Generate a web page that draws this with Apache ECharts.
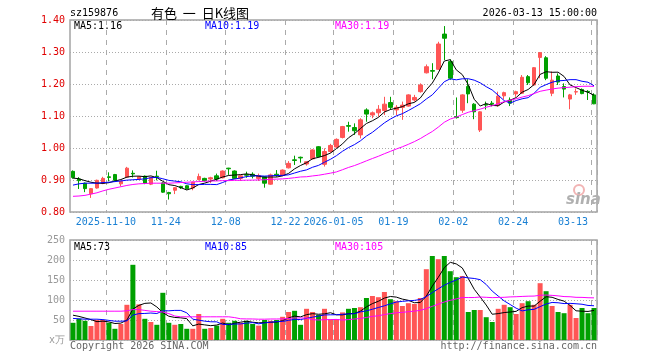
<!DOCTYPE html>
<html><head><meta charset="utf-8">
<script src="https://cdn.jsdelivr.net/npm/echarts@6.0.0/dist/echarts.min.js"></script>
<style>html,body{margin:0;padding:0;background:#fff}#c{width:660px;height:360px}</style>
</head><body><div id="c"></div>
<script>
// trading days shown on the category axis
const tradingDays = {
  '2025-10': [31],
  '2025-11': [3,4,5,6,7,10,11,12,13,14,17,18,19,20,21,24,25,26,27,28],
  '2025-12': [1,2,3,4,5,8,9,10,11,12,15,16,17,18,19,22,23,24,25,26,29,30,31],
  '2026-01': [5,6,7,8,9,12,13,14,15,16,19,20,21,22,23,26,27,28,29,30],
  '2026-02': [2,3,4,5,6,9,10,11,12,13,24,25,26,27],
  '2026-03': [2,3,4,5,6,9,10,11,12,13]
};
const tickLabels = {
  '2025-11-10': '2025-11-10', '2025-11-24': '11-24', '2025-12-08': '12-08',
  '2025-12-22': '12-22', '2026-01-05': '2026-01-05', '2026-01-19': '01-19',
  '2026-02-02': '02-02', '2026-02-24': '02-24', '2026-03-13': '03-13'
};
const open = [0.927,0.903,0.890,0.857,0.875,0.889,0.910,0.917,0.888,0.909,
0.921,0.903,0.912,0.887,0.912,0.891,0.861,0.868,0.880,0.882,
0.875,0.901,0.905,0.903,0.913,0.907,0.937,0.928,0.905,0.917,
0.918,0.905,0.910,0.887,0.918,0.914,0.938,0.963,0.971,0.950,
0.966,1.004,0.949,0.989,1.003,1.033,1.070,1.064,1.041,1.119,
1.103,1.110,1.117,1.142,1.119,1.127,1.131,1.150,1.176,1.235,
1.242,1.246,1.356,1.270,1.098,1.118,1.192,1.137,1.056,1.136,
1.140,1.134,1.163,1.150,1.169,1.171,1.223,1.197,1.283,1.282,
1.171,1.225,1.192,1.153,1.175,1.183,1.177,1.166];
const close = [0.908,0.898,0.873,0.873,0.899,0.905,0.908,0.899,0.896,0.937,
0.919,0.910,0.890,0.908,0.910,0.862,0.857,0.876,0.876,0.873,
0.893,0.911,0.898,0.907,0.903,0.928,0.935,0.905,0.913,0.915,
0.912,0.914,0.890,0.916,0.914,0.931,0.952,0.961,0.969,0.957,
0.994,0.973,0.989,1.008,1.027,1.067,1.068,1.054,1.088,1.106,
1.110,1.121,1.137,1.127,1.127,1.134,1.166,1.158,1.197,1.254,
1.240,1.325,1.343,1.218,1.095,1.166,1.169,1.113,1.113,1.134,
1.137,1.162,1.173,1.140,1.176,1.221,1.204,1.251,1.298,1.218,
1.212,1.206,1.184,1.166,1.176,1.170,1.175,1.138];
const low = [0.904,0.872,0.862,0.844,0.873,0.887,0.896,0.897,0.880,0.907,
0.908,0.900,0.887,0.884,0.899,0.860,0.839,0.856,0.872,0.870,
0.868,0.899,0.895,0.891,0.897,0.905,0.916,0.903,0.897,0.907,
0.905,0.897,0.876,0.885,0.910,0.912,0.936,0.947,0.954,0.945,
0.964,0.970,0.942,0.985,1.000,1.030,1.051,1.041,1.030,1.082,
1.093,1.098,1.103,1.119,1.103,1.088,1.129,1.145,1.173,1.233,
1.215,1.244,1.275,1.213,1.092,1.110,1.140,1.090,1.050,1.120,
1.130,1.129,1.152,1.131,1.160,1.169,1.197,1.195,1.218,1.212,
1.162,1.197,1.158,1.121,1.166,1.168,1.150,1.137];
const high = [0.930,0.909,0.892,0.875,0.901,0.910,0.924,0.919,0.898,0.941,
0.930,0.912,0.914,0.910,0.929,0.893,0.863,0.878,0.882,0.884,
0.895,0.920,0.907,0.910,0.920,0.930,0.938,0.930,0.915,0.926,
0.924,0.920,0.912,0.920,0.931,0.933,0.959,0.976,0.973,0.959,
0.996,1.006,0.999,1.013,1.030,1.069,1.082,1.077,1.093,1.124,
1.114,1.134,1.160,1.160,1.134,1.145,1.168,1.166,1.202,1.261,
1.265,1.332,1.381,1.277,1.158,1.168,1.215,1.140,1.115,1.145,
1.147,1.176,1.176,1.158,1.179,1.228,1.228,1.253,1.300,1.287,
1.239,1.233,1.202,1.169,1.186,1.186,1.181,1.171];
const volume = [43,53,48,35,50,50,43,28,40,88,
188,89,53,45,38,118,43,38,40,28,
28,65,28,30,36,53,43,48,43,48,
40,36,50,48,50,58,70,73,38,78,
70,63,78,52,52,69,78,80,82,105,
110,107,120,102,97,85,92,90,105,177,
210,202,210,172,157,160,70,75,75,57,
45,78,88,82,65,92,97,88,142,122,
85,70,67,88,55,80,67,80];
// moving-average values before a full window is available
const ma5Head = [0.906,0.904,0.898,0.893];
const ma10Head = [0.884,0.888,0.890,0.890,0.890,0.892,0.893,0.895,0.897];
const ma30Head = [0.849,0.850,0.852,0.856,0.860,0.866,0.871,0.875,0.879,0.883,0.886,0.888,0.889,0.890,0.890,0.890,0.890,0.891,0.892,0.893,0.894,0.895,0.896,0.897,0.897,0.898,0.898,0.899,0.899];
const volMa5Head = [62,59,55,51];
const volMa10Head = [54,53,52,52,52,51,49,47,47];
const volMa30Head = [72,72,72,72,72,72,72,72,72,73,76,76,74,72,71,70,66,60,58,58,58,58,58,58,58,58,58,56,53];
const legendPrice = ['MA5:1.16','MA10:1.19','MA30:1.19'];
const legendVol = ['MA5:73','MA10:85','MA30:105'];

const categories = [];
Object.keys(tradingDays).forEach(m => tradingDays[m].forEach(d => categories.push(m + '-' + String(d).padStart(2,'0'))));

function ma(vals, n, head) {
  return vals.map((_, i) => {
    if (i < n - 1) return head[i];
    let s = 0; for (let k = i - n + 1; k <= i; k++) s += vals[k];
    return +(s / n).toFixed(4);
  });
}
const RED = '#ff5555', GREEN = '#00a000';
const MONO = '"DejaVu Sans Mono", monospace';
const showTick2 = (idx) => tickLabels[categories[idx]] !== undefined;

const kData = categories.map((_, i) => [open[i], close[i], low[i], high[i]]);
const volData = categories.map((_, i) => ({ value: volume[i], itemStyle: { color: close[i] >= open[i] ? RED : GREEN } }));

function xAx(gi, labels) {
  return {
    type: 'category', gridIndex: gi, data: categories, boundaryGap: true,
    axisLine: { show: false }, axisTick: { show: false, interval: showTick2 },
    axisLabel: { show: labels, interval: showTick2, formatter: v => tickLabels[v] || '', color: '#1a80d4',
      fontFamily: MONO, fontSize: 10, margin: 5, padding: [0, 6, 0, 0], alignMaxLabel: 'right' },
    splitLine: { show: true, interval: showTick2, lineStyle: { color: '#aaaaaa', type: [5, 5], width: 1 } }
  };
}
function line(name, data, color, xi, yi) {
  return { name, type: 'line', data, xAxisIndex: xi, yAxisIndex: yi, symbol: 'none', smooth: false,
    lineStyle: { color, width: 1 }, itemStyle: { color }, z: 5 };
}
function txt(text, x, y, fill, align, font) {
  return { type: 'text', x, y, z: 100, style: { text, fill, align: align || 'left', verticalAlign: 'middle', font: font || ('10px ' + MONO) } };
}

const option = {
  animation: false,
  backgroundColor: '#fff',
  grid: [
    { left: 70, top: 20, width: 527, height: 192, show: true, borderColor: '#a4a4a4', borderWidth: 1.5 },
    { left: 70, top: 240, width: 527, height: 100, show: true, borderColor: '#a4a4a4', borderWidth: 1.5 }
  ],
  xAxis: [xAx(0, true), xAx(1, false)],
  yAxis: [
    { type: 'value', gridIndex: 0, min: 0.8, max: 1.4, interval: 0.1, scale: true,
      axisLine: { show: false }, axisTick: { show: false },
      axisLabel: { color: '#e00000', fontFamily: MONO, fontSize: 10, margin: 5, formatter: v => v.toFixed(2) },
      splitLine: { lineStyle: { color: '#aaaaaa', type: [1, 2], width: 1 } } },
    { type: 'value', gridIndex: 1, min: 0, max: 250, interval: 50,
      axisLine: { show: false }, axisTick: { show: false },
      axisLabel: { color: '#999999', fontFamily: MONO, fontSize: 10, margin: 5, formatter: v => v === 0 ? 'x万' : String(v) },
      splitLine: { lineStyle: { color: '#aaaaaa', type: [1, 2], width: 1 } } }
  ],
  series: [
    { type: 'candlestick', xAxisIndex: 0, yAxisIndex: 0, data: kData, barWidth: 4,
      itemStyle: { color: RED, color0: GREEN, borderColor: RED, borderColor0: GREEN, borderWidth: 1 } },
    line('MA5', ma(close, 5, ma5Head), '#000000', 0, 0),
    line('MA10', ma(close, 10, ma10Head), '#0000ff', 0, 0),
    line('MA30', ma(close, 30, ma30Head), '#ff00ff', 0, 0),
    { type: 'bar', xAxisIndex: 1, yAxisIndex: 1, data: volData, barWidth: 5 },
    line('VMA5', ma(volume, 5, volMa5Head), '#000000', 1, 1),
    line('VMA10', ma(volume, 10, volMa10Head), '#0000ff', 1, 1),
    line('VMA30', ma(volume, 30, volMa30Head), '#ff00ff', 1, 1)
  ],
  graphic: [
    txt('sz159876', 70, 13, '#000'),
    txt('有色  一  日K线图', 200, 13, '#000', 'center', '13px "Noto Sans CJK SC"'),
    txt('2026-03-13 15:00:00', 597, 13, '#000', 'right'),
    txt(legendPrice[0], 74, 26, '#000'),
    txt(legendPrice[1], 205, 26, '#0000ff'),
    txt(legendPrice[2], 335, 26, '#ff00ff'),
    txt(legendVol[0], 74, 247, '#000'),
    txt(legendVol[1], 205, 247, '#0000ff'),
    txt(legendVol[2], 335, 247, '#ff00ff'),
    txt('Copyright 2026 SINA.COM', 70, 346, '#666'),
    txt('http://finance.sina.com.cn', 597, 346, '#666', 'right'),
    { type: 'circle', shape: { cx: 579, cy: 190, r: 5 }, style: { fill: 'none', stroke: '#f2b4b4', lineWidth: 2 }, z: 1 },
    txt('sina', 566, 200, '#b0b0b0', 'left', 'italic bold 15px "DejaVu Sans"')
  ]
};
const chart = echarts.init(document.getElementById('c'), null, { renderer: 'canvas' });
chart.setOption(option);
</script></body></html>
